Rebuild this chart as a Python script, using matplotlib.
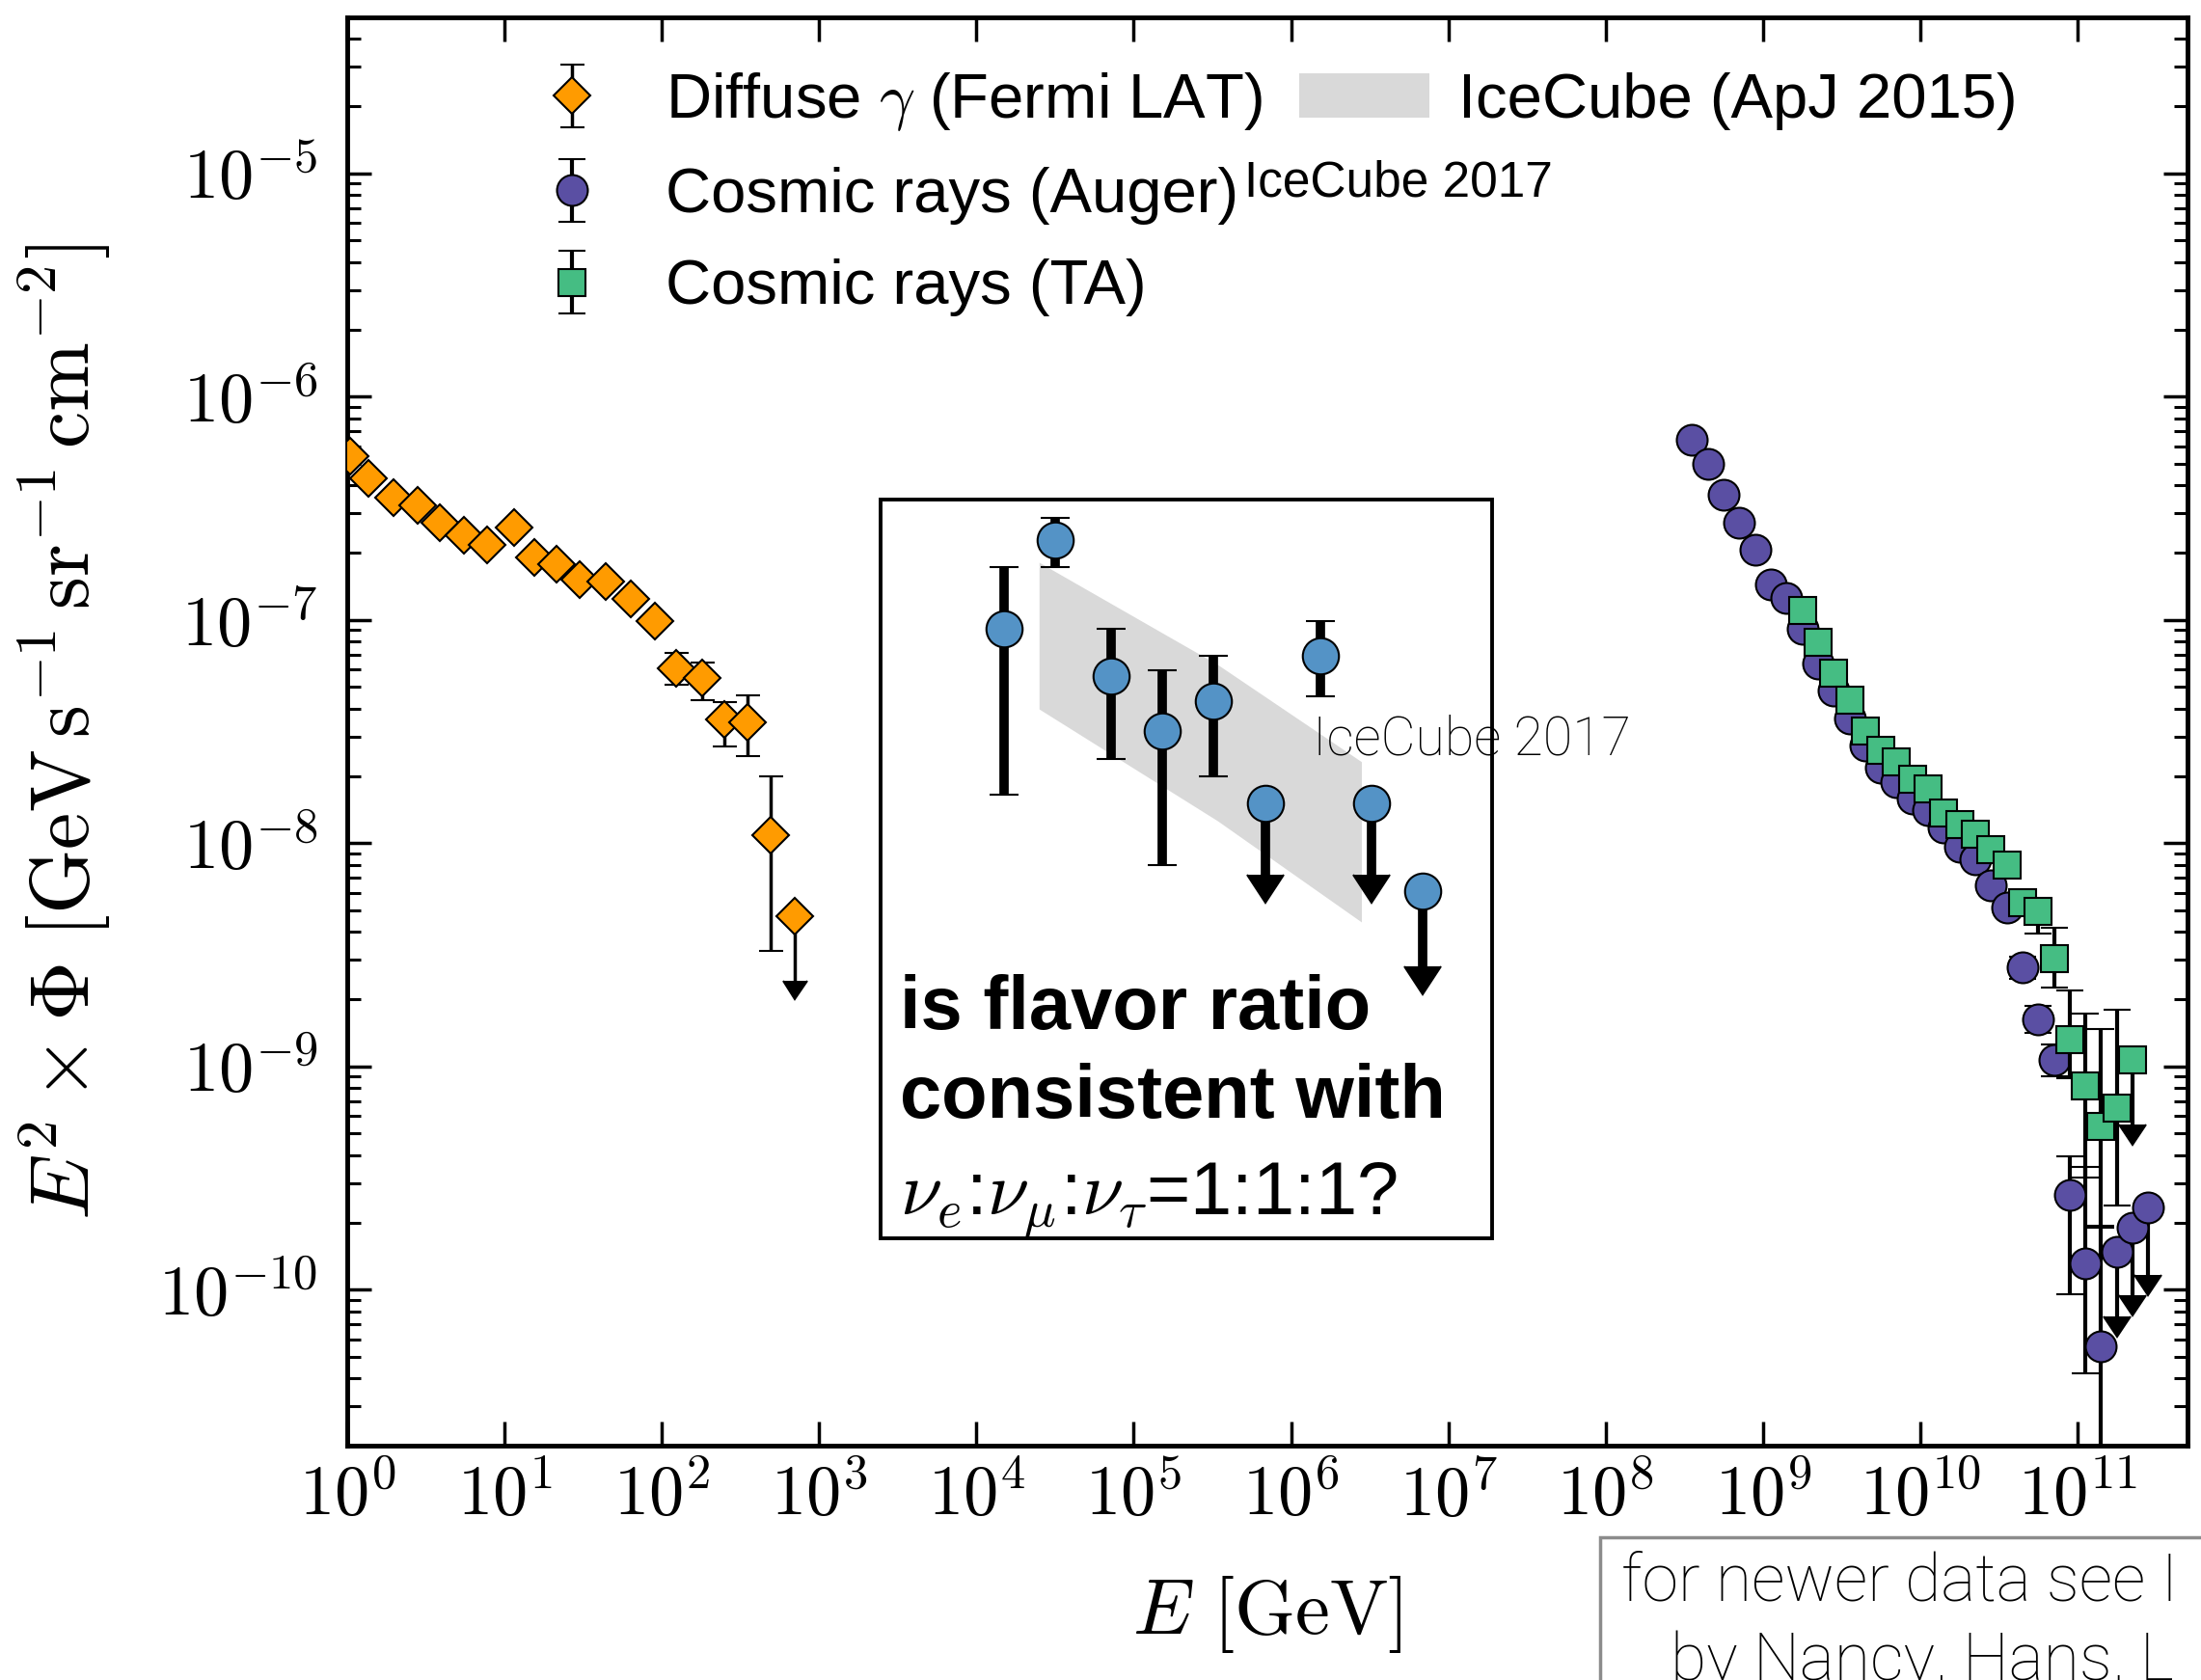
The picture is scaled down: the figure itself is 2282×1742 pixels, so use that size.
import matplotlib
matplotlib.use("Agg")
import matplotlib.pyplot as plt
import numpy as np
from matplotlib.lines import Line2D
from matplotlib.patches import Rectangle
from matplotlib.ticker import FuncFormatter, LogLocator, NullFormatter, NullLocator

plt.rcParams['mathtext.fontset'] = 'cm'
plt.rcParams['font.family'] = ['Liberation Sans', 'DejaVu Sans']

# all values are log10: energy in GeV, flux E^2*Phi in GeV s^-1 sr^-1 cm^-2
fermi_loge = [0.02, 0.133, 0.292, 0.45, 0.591, 0.742, 0.89, 1.058, 1.189, 1.329,
              1.48, 1.646, 1.804, 1.955, 2.093, 2.254, 2.395, 2.543, 2.691, 2.842]
fermi_logf = [-6.267, -6.366, -6.454, -6.487, -6.565, -6.619, -6.664, -6.587, -6.719, -6.752,
              -6.818, -6.829, -6.906, -7.005, -7.215, -7.259, -7.446, -7.457, -7.964, -8.327]
fermi_up = [0.02] * 14 + [0.067, 0.066, 0.078, 0.121, 0.265, 0.0]
fermi_lo = [0.02] * 14 + [0.077, 0.099, 0.121, 0.154, 0.518, 0.29]
fermi_ul = [False] * 19 + [True]

auger_loge = [8.55, 8.65, 8.75, 8.85, 8.95, 9.05, 9.15, 9.25, 9.35, 9.45,
              9.55, 9.65, 9.75, 9.85, 9.95, 10.05, 10.15, 10.25, 10.35, 10.45,
              10.55, 10.65, 10.75, 10.85, 10.95, 11.05, 11.15, 11.25, 11.35, 11.45]
auger_logf = [-6.195, -6.303, -6.440, -6.565, -6.687, -6.843, -6.901, -7.04, -7.196, -7.318,
              -7.441, -7.563, -7.664, -7.728, -7.800, -7.851, -7.930, -8.016, -8.074, -8.19,
              -8.29, -8.557, -8.789, -8.972, -9.575, -9.881, -10.253, -9.832, -9.724, -9.633]
auger_up = [0.02] * 21 + [0.05, 0.06, 0.07, 0.173, 0.43, 0.53, 0.0, 0.0, 0.0]
auger_lo = [0.02] * 21 + [0.05, 0.06, 0.074, 0.447, 0.496, 2.0, 0.29, 0.30, 0.30]
auger_ul = [False] * 27 + [True, True, True]

ta_loge = [9.25, 9.35, 9.45, 9.55, 9.65, 9.75, 9.85, 9.95, 10.05, 10.15, 10.25,
           10.35, 10.45, 10.55, 10.65, 10.75, 10.85, 10.95, 11.05, 11.15, 11.25, 11.35]
ta_logf = [-6.958, -7.102, -7.239, -7.361, -7.498, -7.584, -7.635, -7.714, -7.757, -7.865, -7.916,
           -7.959, -8.031, -8.10, -8.267, -8.305, -8.517, -8.881, -9.088, -9.270, -9.187, -8.972]
ta_up = [0.02] * 13 + [0.03, 0.05, 0.05, 0.14, 0.223, 0.323, 0.439, 0.442, 0.0]
ta_lo = [0.02] * 13 + [0.03, 0.05, 0.10, 0.13, 0.17, 0.41, 0.446, 0.438, 0.29]
ta_ul = [False] * 21 + [True]

ic_loge = [4.175, 4.502, 4.855, 5.182, 5.509, 6.186]
ic_logf = [-7.039, -6.642, -7.250, -7.498, -7.362, -7.163]
ic_top = [-6.762, -6.543, -7.039, -7.225, -7.163, -7.007]
ic_bottom = [-7.783, -6.762, -7.622, -8.098, -7.702, -7.344]
ic_ul_loge = [5.836, 6.513, 6.839]
ic_ul_logf = [-7.820, -7.820, -8.217]
ic_ul_bottom = [-8.143, -8.143, -8.552]

band_loge = [4.398, 5.533, 6.447]
band_hi = [-6.742, -7.20, -7.635]
band_lo = [-7.399, -7.90, -8.353]

x_decades = list(range(0, 12))
y_decades = list(range(-10, -4))


def to_lin(loge, logf, up, lo):
    loge, logf = np.asarray(loge), np.asarray(logf)
    up, lo = np.asarray(up), np.asarray(lo)
    f = 10.0 ** logf
    err = np.vstack([f - 10.0 ** (logf - lo), 10.0 ** (logf + up) - f])
    return 10.0 ** loge, f, err


fig = plt.figure(figsize=(22.82, 17.42), dpi=100)
W, H = 2282.0, 1742.0
ax = fig.add_axes([360 / W, 1 - 1499 / H, (2268 - 360) / W, (1499 - 18) / H])
ax.set_xscale('log')
ax.set_yscale('log')

band = ax.fill_between(10.0 ** np.array(band_loge), 10.0 ** np.array(band_lo),
                       10.0 ** np.array(band_hi), color='#d9d9d9', lw=0, zorder=1)

x, y, e = to_lin(fermi_loge, fermi_logf, fermi_up, fermi_lo)
fermi = ax.errorbar(x, y, yerr=e, uplims=fermi_ul, fmt='D', color='k', ms=19, mfc='#ff9b00',
                    mec='k', mew=1.5, ecolor='k', elinewidth=2.5, capsize=9, capthick=2.5, zorder=3)

x, y, e = to_lin(auger_loge, auger_logf, auger_up, auger_lo)
auger = ax.errorbar(x, y, yerr=e, uplims=auger_ul, fmt='o', color='k', ms=23, mfc='#5a4fa3',
                    mec='k', mew=1.5, ecolor='k', elinewidth=3, capsize=10, capthick=3, zorder=3)

x, y, e = to_lin(ta_loge, ta_logf, ta_up, ta_lo)
ta = ax.errorbar(x, y, yerr=e, uplims=ta_ul, fmt='s', color='k', ms=20, mfc='#45bd83',
                 mec='k', mew=1.5, ecolor='k', elinewidth=3, capsize=10, capthick=3, zorder=4)

# IceCube 2017 points, measured bins and upper limits
ic_up = np.array(ic_top) - np.array(ic_logf)
ic_lo = np.array(ic_logf) - np.array(ic_bottom)
x, y, e = to_lin(ic_loge, ic_logf, ic_up, ic_lo)
ax.errorbar(x, y, yerr=e, fmt='o', color='k', ms=27, mfc='#5493c6', mec='k', mew=1.5,
            ecolor='k', elinewidth=7, capsize=10.5, capthick=6, zorder=5)
ul_lo = np.array(ic_ul_logf) - np.array(ic_ul_bottom)
x, y, e = to_lin(ic_ul_loge, ic_ul_logf, np.zeros(3), ul_lo)
ax.errorbar(x, y, yerr=e, uplims=True, fmt='o', color='k', ms=27, mfc='#5493c6', mec='k',
            mew=1.5, ecolor='k', elinewidth=7, capsize=14, capthick=2, zorder=5)

ax.set_xlim(1, 5e11)
ax.set_ylim(2e-11, 5e-5)

ax.set_xticks([10.0 ** d for d in x_decades])
ax.set_yticks([10.0 ** d for d in y_decades])
ax.xaxis.set_minor_locator(NullLocator())
ax.yaxis.set_minor_locator(LogLocator(base=10, subs=np.arange(2, 10), numticks=30))
ax.yaxis.set_minor_formatter(NullFormatter())
fmt = FuncFormatter(lambda v, p: r'$10^{%d}$' % int(round(np.log10(v))))
ax.xaxis.set_major_formatter(fmt)
ax.yaxis.set_major_formatter(fmt)

ax.tick_params(which='both', direction='in', top=True, right=True)
ax.tick_params(which='major', length=18, width=2.5, labelsize=52)
ax.tick_params(axis='x', which='major', pad=14)
ax.tick_params(axis='y', which='major', pad=22)
ax.tick_params(which='minor', length=10, width=2.2)
for sp in ax.spines.values():
    sp.set_linewidth(3.5)

ax.set_xlabel(r'$E\ [\mathrm{GeV}]$', fontsize=58, labelpad=32)
ax.set_ylabel(r'$E^2\times\Phi\ [\mathrm{GeV\,s^{-1}\,sr^{-1}\,cm^{-2}}]$', fontsize=62, labelpad=34)

blank = Line2D([], [], linestyle='none', marker='none')
ax.legend([fermi, auger, ta, band, blank, blank],
          [r'Diffuse $\gamma$ (Fermi LAT)', 'Cosmic rays (Auger)', 'Cosmic rays (TA)',
           'IceCube (ApJ 2015)', '', ''],
          ncol=2, frameon=False, fontsize=47, handlelength=2.06, handleheight=0.7,
          handletextpad=0.46, columnspacing=0.58, labelspacing=0.54,
          borderpad=0, borderaxespad=0, loc='upper left',
          bbox_to_anchor=(526 / W, 1 - 73 / H), bbox_transform=fig.transFigure)

fig.text(1290 / W, 1 - 203 / H, 'IceCube 2017', fontsize=37, va='baseline', ha='left')
fig.text(1361 / W, 1 - 767 / H, 'IceCube 2017', fontsize=40, va='center', ha='left',
         family=['Roboto', 'DejaVu Sans'], fontweight='light')

# question box over the IceCube points
fig.add_artist(Rectangle((913 / W, 1 - 1284 / H), (1547 - 913) / W, (1284 - 518) / H,
                         transform=fig.transFigure, fill=False, ec='k', lw=2.8))
fig.text(933 / W, 1 - 1067 / H, 'is flavor ratio', fontsize=56, fontweight='bold', va='baseline')
fig.text(933 / W, 1 - 1159 / H, 'consistent with', fontsize=56, fontweight='bold', va='baseline')
fig.text(933 / W, 1 - 1258 / H, r'$\nu_e$:$\nu_\mu$:$\nu_\tau$=1:1:1?', fontsize=56,
         va='baseline')

# note box in the lower right corner
fig.add_artist(Rectangle((1659 / W, 1 - 1800 / H), 700 / W, (1800 - 1594) / H,
                         transform=fig.transFigure, fc='white', ec='#8c8c8c', lw=2.5))
fig.text(1681 / W, 1 - 1659 / H, 'for newer data see I', fontsize=49, va='baseline',
         family=['Roboto', 'DejaVu Sans'], fontweight='light')
fig.text(1732 / W, 1 - 1742 / H, 'by Nancy, Hans, L', fontsize=49, va='baseline',
         family=['Roboto', 'DejaVu Sans'], fontweight='light')

fig.savefig('out.png', dpi=100)
